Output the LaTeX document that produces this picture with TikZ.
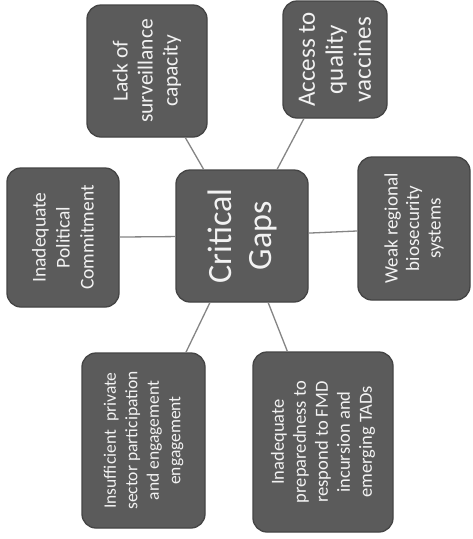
\documentclass[tikz,border=0pt]{standalone}
\usepackage{fontspec}
\setmainfont{Carlito}
\definecolor{boxfill}{HTML}{5B5B5B}
\definecolor{boxborder}{HTML}{444444}
\definecolor{linkgray}{HTML}{858585}
\definecolor{txt}{HTML}{F2F2F2}
\begin{document}
\begin{tikzpicture}[x=1pt,y=-1pt,
  box/.style={draw=boxborder, line width=1.3pt, fill=boxfill, rounded corners=14pt,
    rotate=90, text=txt, align=center, inner sep=0pt},
  link/.style={draw=linkgray, line width=1.3pt}]
\useasboundingbox (0,0) rectangle (472,539);
\fill[white] (0,0) rectangle (472,539);

\node[box, minimum width=132pt, minimum height=132pt,
  font=\fontsize{34}{40}\selectfont] (c) at (242,236) {Critical\\Gaps};

\node[box, minimum width=132pt, minimum height=120pt,
  font=\fontsize{21.5}{25}\selectfont] (surv) at (147,71) {Lack of\\surveillance\\capacity};

\node[box, minimum width=117pt, minimum height=104pt,
  font=\fontsize{25}{28}\selectfont] (vacc) at (335,59.5) {Access to\\quality\\vaccines};

\node[box, minimum width=139pt, minimum height=112pt,
  font=\fontsize{19.5}{24}\selectfont] (pol) at (63,237.5) {Inadequate\\Political\\Commitment};

\node[box, minimum width=143pt, minimum height=112pt,
  font=\fontsize{19}{21.5}\selectfont] (bio) at (414,228.5) {Weak regional\\biosecurity\\systems};

\node[box, minimum width=175pt, minimum height=123pt,
  font=\fontsize{17.5}{21.5}\selectfont] (priv) at (143.5,440.5) {Insufficient\ \ private\\sector participation\\and engagement\\engagement};

\node[box, minimum width=180pt, minimum height=140pt,
  font=\fontsize{18.5}{22}\selectfont] (prep) at (323,442) {Inadequate\\preparedness to\\respond to FMD\\incursion and\\emerging TADs};

\draw[link] (c) -- (surv);
\draw[link] (c) -- (vacc);
\draw[link] (c) -- (pol);
\draw[link] (c) -- (bio);
\draw[link] (c) -- (priv);
\draw[link] (c) -- (prep);
\end{tikzpicture}
\end{document}
